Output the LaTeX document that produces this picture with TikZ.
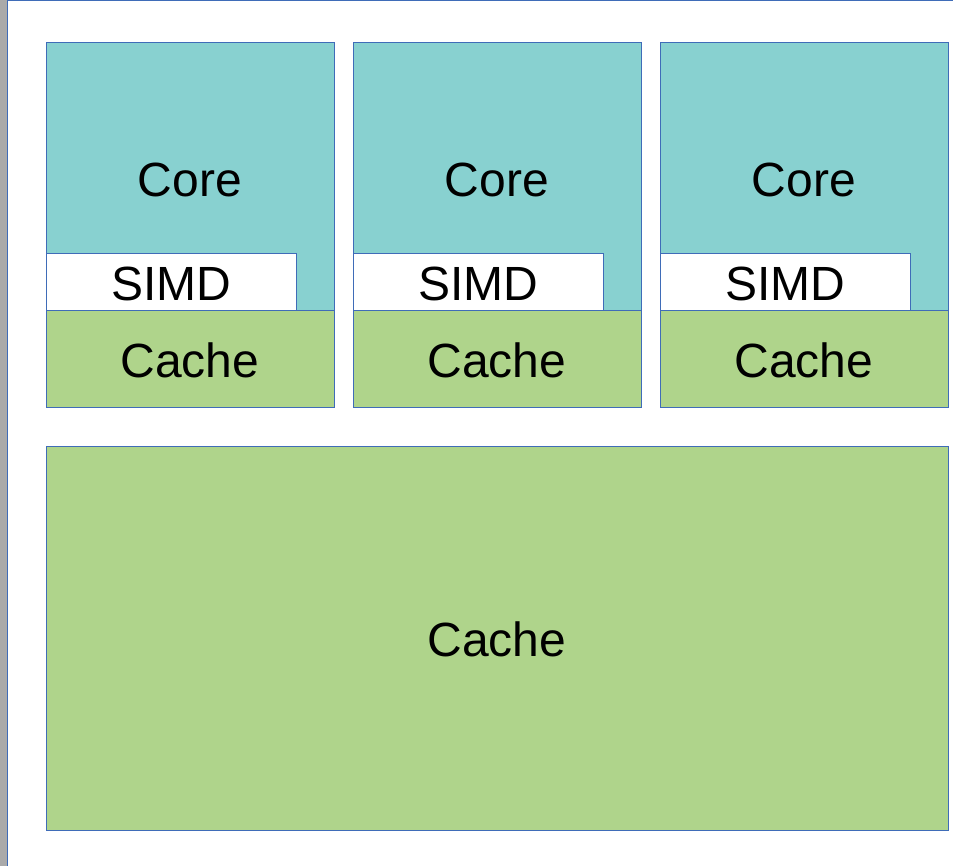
\documentclass[tikz,border=0pt]{standalone}
\usepackage{fontspec}
\setmainfont{Liberation Sans}
\definecolor{edge}{HTML}{3F6CB8}
\definecolor{coreteal}{HTML}{88D1D0}
\definecolor{cachegreen}{HTML}{AFD48B}
\definecolor{strip}{HTML}{AAAAAA}
\begin{document}
\begin{tikzpicture}[x=1pt,y=-1pt,
  blk/.style={draw=edge,line width=1pt,anchor=north west,inner sep=0pt,outer sep=0pt},
  lbl/.style={font=\fontsize{48}{56}\selectfont,inner sep=0pt,yshift=-1.5pt}]
\useasboundingbox (0,0) rectangle (953,866);
\fill[strip] (0,0) rectangle (7,866);
\draw[edge,line width=1pt] (7.5,866) -- (7.5,1) -- (953,1);
\foreach \i/\x in {1/46,2/353,3/660}{
  \node[blk,fill=coreteal,minimum width=288,minimum height=268] (core\i) at (\x,43) {};
  \node[blk,fill=white,minimum width=250,minimum height=57] (simd\i) at (\x,254) {};
  \node[blk,fill=cachegreen,minimum width=288,minimum height=96] (cache\i) at (\x,311) {};
  \node[lbl] (coret\i) at (\x+144,178) {Core};
  \node[lbl] (simdt\i) at (simd\i.center) {SIMD};
  \node[lbl] (cachet\i) at (cache\i.center) {Cache};
}
\node[blk,fill=cachegreen,minimum width=902,minimum height=384] (l3) at (46,446) {};
\node[lbl] (l3t) at (l3.center) {Cache};
\end{tikzpicture}
\end{document}
